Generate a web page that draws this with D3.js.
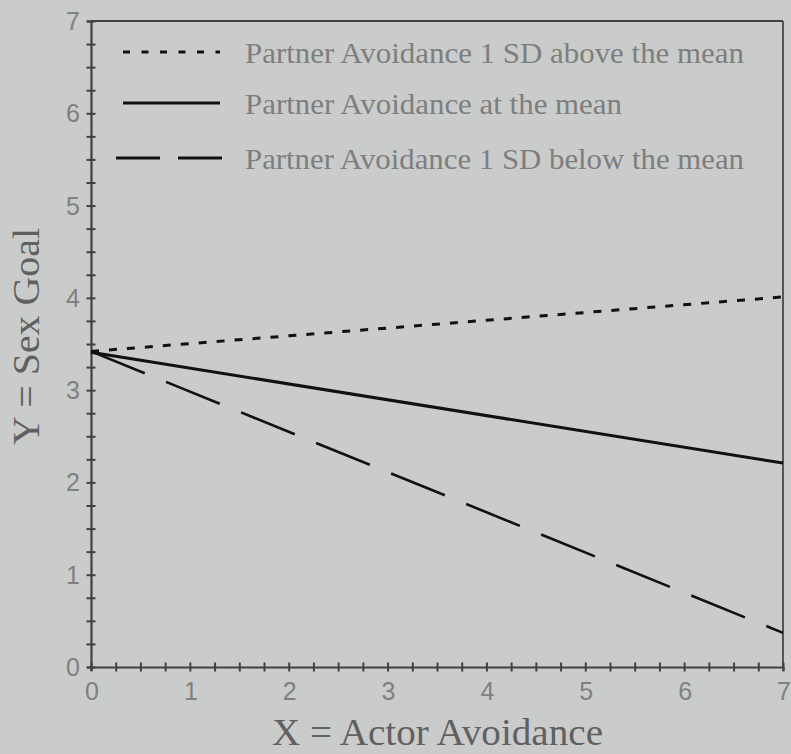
<!DOCTYPE html>
<html><head><meta charset="utf-8">
<script src="https://cdn.jsdelivr.net/npm/d3@7"></script>
<style>html,body{margin:0;padding:0;background:#cacccb;}svg{display:block;}</style>
</head><body>
<svg id="c" width="791" height="754"></svg>
<script>
const xValues = [0, 7];
const seriesNames = ["Partner Avoidance 1 SD above the mean", "Partner  Avoidance at the mean", "Partner Avoidance 1 SD below the mean"];
const aboveValues = [3.42, 4.01];
const meanValues = [3.41, 2.21];
const belowValues = [3.42, 0.37];
const tickLabels = [0, 1, 2, 3, 4, 5, 6, 7];
const xTitle = "X = Actor Avoidance";
const yTitle = "Y = Sex Goal";

const svg = d3.select("#c");
svg.append("rect").attr("width", 791).attr("height", 754).attr("fill", "#cacccb");
const x = d3.scaleLinear().domain([0, 7]).range([91, 783]);
const y = d3.scaleLinear().domain([0, 7]).range([667, 21]);
const axisColor = "#404040";

// frame top & right
svg.append("line").attr("x1", x(0)).attr("x2", x(7)).attr("y1", y(7)).attr("y2", y(7)).attr("stroke", axisColor).attr("stroke-width", 2);
svg.append("line").attr("x1", x(7)).attr("x2", x(7)).attr("y1", y(7)).attr("y2", y(0)).attr("stroke", "#555").attr("stroke-width", 2);

const minor = d3.range(0, 7.001, 0.25);
// y axis
const yAx = svg.append("g").attr("transform", `translate(${x(0)},0)`)
  .call(d3.axisLeft(y).tickValues(minor).tickSize(4).tickFormat(""));
yAx.select(".domain").attr("stroke", axisColor).attr("stroke-width", 2.2);
yAx.selectAll(".tick line").attr("stroke", axisColor).attr("stroke-width", 2).attr("x1", 4.5).attr("x2", -4.5);
svg.append("g").selectAll("text").data(tickLabels).join("text")
  .attr("x", 80).attr("y", d => y(d) + 9).attr("text-anchor", "end")
  .attr("font-family", "Liberation Sans, Arial, sans-serif").attr("font-size", 25)
  .attr("fill", "#808080").text(d => d);

// x axis
const xAx = svg.append("g").attr("transform", `translate(0,${y(0)})`)
  .call(d3.axisBottom(x).tickValues(minor).tickSize(4).tickFormat(""));
xAx.select(".domain").attr("stroke", axisColor).attr("stroke-width", 2.2);
xAx.selectAll(".tick line").attr("stroke", axisColor).attr("stroke-width", 2).attr("y1", -4.5).attr("y2", 4.5);
svg.append("g").selectAll("text").data(tickLabels).join("text")
  .attr("x", d => x(d) + 1).attr("y", 700).attr("text-anchor", "middle")
  .attr("font-family", "Liberation Sans, Arial, sans-serif").attr("font-size", 25)
  .attr("fill", "#808080").text(d => d);

// lines
const styles = [
  {vals: aboveValues, dash: "8,10", w: 3},
  {vals: meanValues, dash: null, w: 3},
  {vals: belowValues, dash: "58,23", w: 2.6}
];
const line = d3.line().x(d => x(d[0])).y(d => y(d[1]));
styles.forEach(s => {
  svg.append("path").datum(xValues.map((xv, i) => [xv, s.vals[i]]))
    .attr("d", line).attr("fill", "none").attr("stroke", "#111").attr("stroke-width", s.w)
    .attr("stroke-dasharray", s.dash);
});

// legend
const legY = [52, 103, 158];
const legDash = ["7,11.5", null, "44,18"];
const legX1 = [123, 123, 116];
const legEndText = [744, 622, 744];
seriesNames.forEach((n, i) => {
  svg.append("line").attr("x1", legX1[i]).attr("x2", i === 2 ? 225 : 220).attr("y1", legY[i]).attr("y2", legY[i])
    .attr("stroke", "#111").attr("stroke-width", 3).attr("stroke-dasharray", legDash[i]);
  svg.append("text").attr("x", 245).attr("y", legY[i] + 11)
    .attr("font-family", "Liberation Serif, Times New Roman, serif").attr("font-size", 30)
    .attr("fill", "#7e7e7e").attr("textLength", legEndText[i] - 245).attr("lengthAdjust", "spacingAndGlyphs")
    .text(n);
});

// axis titles
svg.append("text").attr("x", 272).attr("y", 745)
  .attr("font-family", "Liberation Serif, Times New Roman, serif").attr("font-size", 38)
  .attr("fill", "#606060").attr("textLength", 331).attr("lengthAdjust", "spacingAndGlyphs").text(xTitle);
svg.append("text").attr("transform", "translate(39,445) rotate(-90)")
  .attr("font-family", "Liberation Serif, Times New Roman, serif").attr("font-size", 38)
  .attr("fill", "#606060").attr("textLength", 217).attr("lengthAdjust", "spacingAndGlyphs").text(yTitle);
</script>
</body></html>
